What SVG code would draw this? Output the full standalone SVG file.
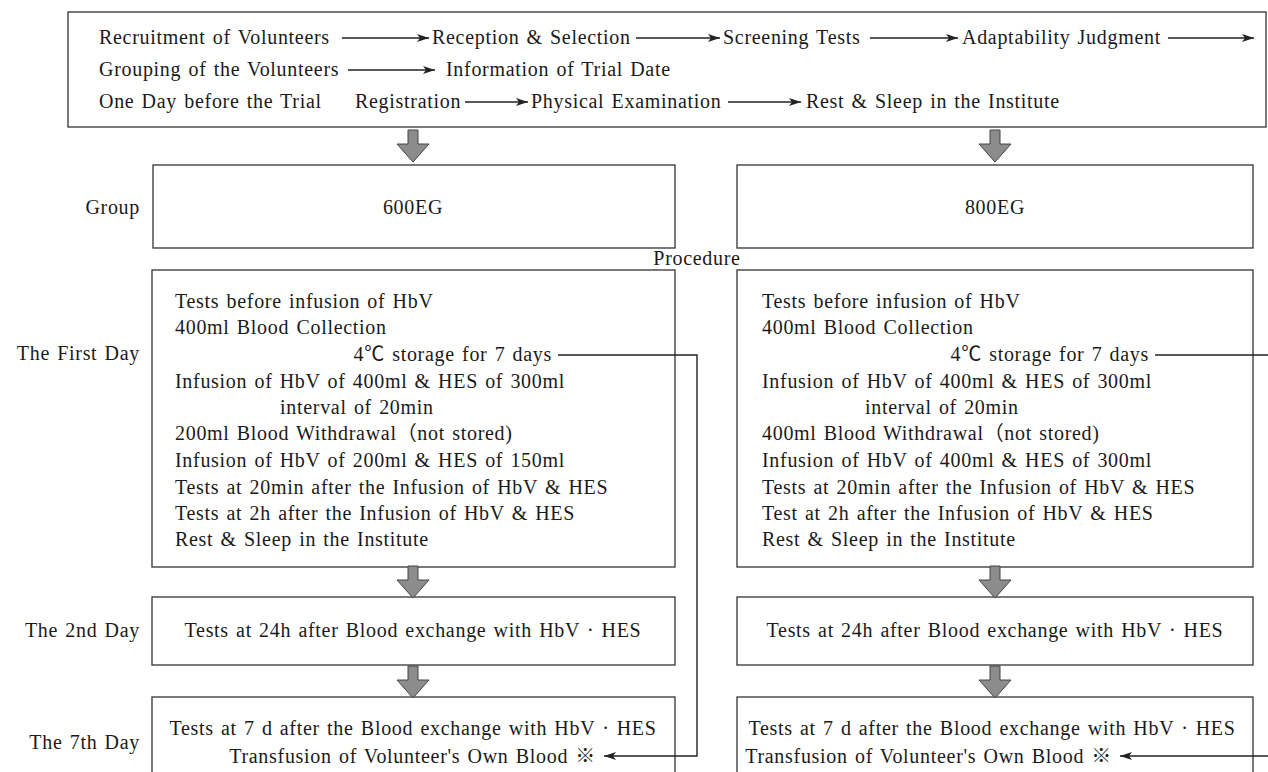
<svg xmlns="http://www.w3.org/2000/svg" width="1268" height="772" viewBox="0 0 1268 772">
<defs>
<style>
text{font-family:"Liberation Serif","Noto Sans CJK JP",serif;font-size:20px;fill:#1a1a1a;letter-spacing:0.7px;word-spacing:1.5px}
.box{fill:#fff;stroke:#333;stroke-width:1.3}
.ln{stroke:#222;stroke-width:1.4;fill:none}
.blk{fill:#8c8c8c;stroke:#444;stroke-width:1}
.mid{text-anchor:middle}
.end{text-anchor:end}
</style>
<marker id="ah" viewBox="0 0 12 8" refX="12" refY="4" markerWidth="12" markerHeight="8" markerUnits="userSpaceOnUse" orient="auto">
<path d="M0,0 L12,4 L0,8 L3,4 z" fill="#222"/>
</marker>
<path id="barrow" d="M-5,0 H5 V14 H16 L0,32 L-16,14 H-5 z"/>
</defs>
<rect width="1268" height="772" fill="#fff"/>

<g id="header">
<rect class="box" x="68" y="12" width="1198" height="115"/>
<text x="99" y="44">Recruitment of Volunteers</text>
<text x="432" y="44">Reception &amp; Selection</text>
<text x="723" y="44">Screening Tests</text>
<text x="962" y="44">Adaptability Judgment</text>
<text x="99" y="76">Grouping of the Volunteers</text>
<text x="446" y="76">Information of Trial Date</text>
<text x="99" y="108">One Day before the Trial</text>
<text x="355" y="108">Registration</text>
<text x="531" y="108">Physical Examination</text>
<text x="806" y="108">Rest &amp; Sleep in the Institute</text>
</g>

<g id="labels">
<text x="140" y="214" class="end">Group</text>
<text x="697" y="265" class="mid">Procedure</text>
<text x="140" y="360" class="end">The First Day</text>
<text x="140" y="637" class="end">The 2nd Day</text>
<text x="140" y="749" class="end">The 7th Day</text>
</g>

<g id="group600">
<rect class="box" x="153" y="165" width="522" height="83"/>
<text x="413" y="214" class="mid">600EG</text>
</g>
<g id="group800">
<rect class="box" x="737" y="165" width="516" height="83"/>
<text x="995" y="214" class="mid">800EG</text>
</g>

<g id="day1-600">
<rect class="box" x="152" y="270" width="523" height="297"/>
<text x="175" y="308">Tests before infusion of HbV</text>
<text x="175" y="334">400ml Blood Collection</text>
<text x="552" y="361" class="end">4℃ storage for 7 days</text>
<text x="175" y="388">Infusion of HbV of 400ml &amp; HES of 300ml</text>
<text x="280" y="414">interval of 20min</text>
<text x="175" y="440">200ml Blood Withdrawal（not stored)</text>
<text x="175" y="467">Infusion of HbV of 200ml &amp; HES of 150ml</text>
<text x="175" y="494">Tests at 20min after the Infusion of HbV &amp; HES</text>
<text x="175" y="520">Tests at 2h after the Infusion of HbV &amp; HES</text>
<text x="175" y="546">Rest &amp; Sleep in the Institute</text>
</g>
<g id="day1-800">
<rect class="box" x="737" y="270" width="516" height="297"/>
<text x="762" y="308">Tests before infusion of HbV</text>
<text x="762" y="334">400ml Blood Collection</text>
<text x="1149" y="361" class="end">4℃ storage for 7 days</text>
<text x="762" y="388">Infusion of HbV of 400ml &amp; HES of 300ml</text>
<text x="865" y="414">interval of 20min</text>
<text x="762" y="440">400ml Blood Withdrawal（not stored)</text>
<text x="762" y="467">Infusion of HbV of 400ml &amp; HES of 300ml</text>
<text x="762" y="494">Tests at 20min after the Infusion of HbV &amp; HES</text>
<text x="762" y="520">Test at 2h after the Infusion of HbV &amp; HES</text>
<text x="762" y="546">Rest &amp; Sleep in the Institute</text>
</g>

<g id="day2-600">
<rect class="box" x="152" y="597" width="523" height="68"/>
<text x="413" y="637" class="mid">Tests at 24h after Blood exchange with HbV · HES</text>
</g>
<g id="day2-800">
<rect class="box" x="737" y="597" width="516" height="68"/>
<text x="995" y="637" class="mid">Tests at 24h after Blood exchange with HbV · HES</text>
</g>

<g id="day7-600">
<rect class="box" x="152" y="697" width="523" height="90"/>
<text x="413" y="735" class="mid">Tests at 7 d after the Blood exchange with HbV · HES</text>
<text x="596" y="763" class="end">Transfusion of Volunteer's Own Blood ※</text>
</g>
<g id="day7-800">
<rect class="box" x="737" y="697" width="516" height="90"/>
<text x="992" y="735" class="mid">Tests at 7 d after the Blood exchange with HbV · HES</text>
<text x="1112" y="763" class="end">Transfusion of Volunteer's Own Blood ※</text>
</g>

<g id="connectors">
<line class="ln" x1="342" y1="38" x2="429" y2="38" marker-end="url(#ah)"/>
<line class="ln" x1="636" y1="38" x2="720" y2="38" marker-end="url(#ah)"/>
<line class="ln" x1="870" y1="38" x2="958" y2="38" marker-end="url(#ah)"/>
<line class="ln" x1="1168" y1="38" x2="1254" y2="38" marker-end="url(#ah)"/>
<line class="ln" x1="348" y1="70" x2="435" y2="70" marker-end="url(#ah)"/>
<line class="ln" x1="465" y1="102" x2="528" y2="102" marker-end="url(#ah)"/>
<line class="ln" x1="728" y1="102" x2="801" y2="102" marker-end="url(#ah)"/>
<use href="#barrow" class="blk" x="413" y="130"/>
<use href="#barrow" class="blk" x="995" y="130"/>
<use href="#barrow" class="blk" x="413" y="566"/>
<use href="#barrow" class="blk" x="995" y="566"/>
<use href="#barrow" class="blk" x="413" y="666"/>
<use href="#barrow" class="blk" x="995" y="666"/>
<polyline class="ln" points="558,355 697,355 697,756 604,756" marker-end="url(#ah)"/>
<polyline class="ln" points="1155,355 1268,355"/>
<line class="ln" x1="1268" y1="756" x2="1120" y2="756" marker-end="url(#ah)"/>
</g>
</svg>
